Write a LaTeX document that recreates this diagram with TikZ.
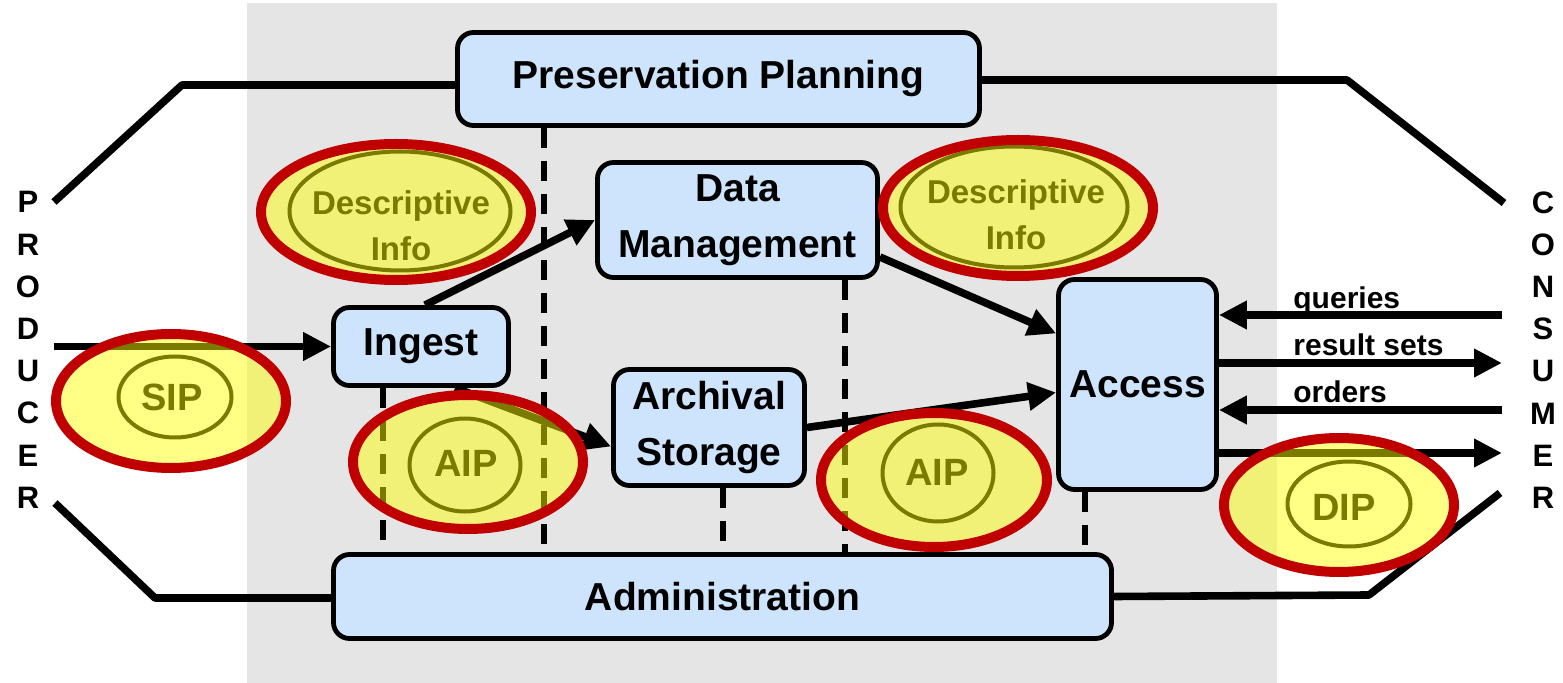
\documentclass[tikz,border=0pt]{standalone}
\usepackage{fontspec}
\setmainfont{Liberation Sans}
\usetikzlibrary{arrows.meta,shapes.geometric,calc}
\definecolor{boxblue}{RGB}{205,228,252}
\definecolor{bggray}{RGB}{229,229,229}
\definecolor{hired}{RGB}{192,0,0}
\definecolor{hiyel}{RGB}{255,255,0}
\begin{document}
\begin{tikzpicture}[x=0.5pt,y=-0.5pt,
  box/.style={draw=black, line width=2.4pt, fill=boxblue, rounded corners=8pt, inner sep=0pt, align=center, font=\bfseries\fontsize{19.5}{28}\selectfont},
  conn/.style={line width=3.8pt, line join=round},
  arr/.style={line width=3.8pt, -{Triangle[length=14pt,width=13.5pt]}},
  dashline/.style={line width=3.4pt, dash pattern=on 10pt off 6.5pt},
  hilite/.style={ellipse, draw=hired, line width=5pt, fill=hiyel, fill opacity=0.48, inner sep=0pt},
  innerell/.style={ellipse, draw=black, line width=2pt, inner sep=0pt},
  elltext/.style={font=\bfseries\fontsize{19}{23}\selectfont, align=center, inner sep=0pt},
  desctext/.style={font=\bfseries\fontsize{16.5}{23}\selectfont, align=center, inner sep=0pt},
  side/.style={font=\bfseries\fontsize{15.5}{21.1}\selectfont, align=center, inner sep=0pt},
  lab/.style={font=\bfseries\fontsize{15}{18}\selectfont, inner sep=0pt, anchor=base west},
]
\useasboundingbox (0,0) rectangle (1563,683);
\fill[white] (0,0) rectangle (1563,683);
\fill[bggray] (247,3) rectangle (1277,683);

% boxes
\node[box, minimum width=261pt, minimum height=46.5pt] (pp) at (718.5,79) {Preservation Planning};
\node[box, minimum width=140pt, minimum height=57.5pt] (dm) at (737.5,220) {Data\\Management};
\node[box, minimum width=87.5pt, minimum height=39pt] (ingest) at (421,346.5) {Ingest};
\node[box, minimum width=95.5pt, minimum height=58pt] (as) at (709,427.5) {Archival\\Storage};
\node[box, minimum width=79pt, minimum height=105pt] (access) at (1137.5,384.5) {Access};
\node[box, minimum width=389pt, minimum height=42pt] (admin) at (722.5,596.5) {Administration};

% side labels
\node[side] (producer) at (28,350) {P\\R\\O\\D\\U\\C\\E\\R};
\node[side] (consumer) at (1543,350) {C\\O\\N\\S\\U\\M\\E\\R};

% producer / consumer lines
\coordinate (p1) at (54,202); \coordinate (pk1) at (182,85);
\draw[conn] (p1) -- (pk1) -- (pk1 -| pp.west);
\coordinate (p2) at (55,503); \coordinate (pk2) at (155,598);
\draw[conn] (p2) -- (pk2) -- (pk2 -| admin.west);
\coordinate (c1) at (1504,203); \coordinate (ck1) at (1347,80);
\draw[conn] (pp.east |- ck1) -- (ck1) -- (c1);
\coordinate (c2) at (1500,493); \coordinate (ck2) at (1369,595);
\draw[conn] (admin.east) -- (ck2) -- (c2);

% dashed lines
\coordinate (d1) at (544,0);
\coordinate (d2) at (383,0);
\coordinate (d3) at (845,0);
\coordinate (d4) at (723,0);
\coordinate (d5) at (1085,0);
\draw[dashline] (d1 |- pp.south) -- (d1 |- admin.north);
\draw[dashline] (d2 |- ingest.south) -- (d2 |- admin.north);
\draw[dashline] (d3 |- dm.south) -- (d3 |- admin.north);
\draw[dashline] (d4 |- as.south) -- (d4 |- admin.north);
\draw[dashline] (d5 |- access.south) -- (d5 |- admin.north);

% internal arrows
\coordinate (pin) at (54,346.5);
\draw[arr] (pin) -- (pin -| ingest.west);
\draw[arr] ($(ingest.north)+(4,0)$) -- (dm.west);
\draw[arr] ($(ingest.south)+(34,0)$) -- ($(as.west)+(0,19)$);
\draw[arr] ($(dm.east)+(0,37)$) -- ($(access.west)+(0,-51)$);
\draw[arr] (as.east) -- ($(access.west)+(0,8)$);

% consumer arrows
\coordinate (cq) at (1502,315);
\coordinate (cr) at (1502,363);
\coordinate (co) at (1502,410);
\coordinate (cd) at (1502,453);
\draw[arr] (cq) -- (cq -| access.east);
\draw[arr] (cr -| access.east) -- (cr);
\draw[arr] (co) -- (co -| access.east);
\draw[arr] (cd -| access.east) -- (cd);
\node[lab] (lq) at (1293,309) {queries};
\node[lab] (lr) at (1293,356) {result sets};
\node[lab] (lo) at (1293,403) {orders};

% inner ellipses and texts
\node[innerell, minimum width=110.5pt, minimum height=59.5pt] (di1in) at (400,211) {};
\node[desctext] (di1t) at (401,226) {Descriptive\\Info};
\node[innerell, minimum width=113.5pt, minimum height=60.5pt] (di2in) at (1014,207) {};
\node[desctext] (di2t) at (1016,215) {Descriptive\\Info};
\node[innerell, minimum width=56.5pt, minimum height=40.5pt] (sipin) at (175,397) {};
\node[elltext] (sipt) at (172,397) {SIP};
\node[innerell, minimum width=55.5pt, minimum height=46.5pt] (aip1in) at (465,465) {};
\node[elltext] (aip1t) at (466,463) {AIP};
\node[innerell, minimum width=55.5pt, minimum height=48.5pt] (aip2in) at (938,473) {};
\node[elltext] (aip2t) at (937,472) {AIP};
\node[innerell, minimum width=61.5pt, minimum height=42.5pt] (dipin) at (1349,504) {};
\node[elltext] (dipt) at (1344,507) {DIP};

% highlights
\node[hilite, minimum width=135pt, minimum height=68pt] (di1) at (396,212) {};
\node[hilite, minimum width=135pt, minimum height=68pt] (di2) at (1018,208) {};
\node[hilite, minimum width=115pt, minimum height=67pt] (sip) at (171,401) {};
\node[hilite, minimum width=115pt, minimum height=67pt] (aip1) at (468,462) {};
\node[hilite, minimum width=113pt, minimum height=67pt] (aip2) at (934,480) {};
\node[hilite, minimum width=115pt, minimum height=67pt] (dip) at (1339,505) {};
\end{tikzpicture}
\end{document}
